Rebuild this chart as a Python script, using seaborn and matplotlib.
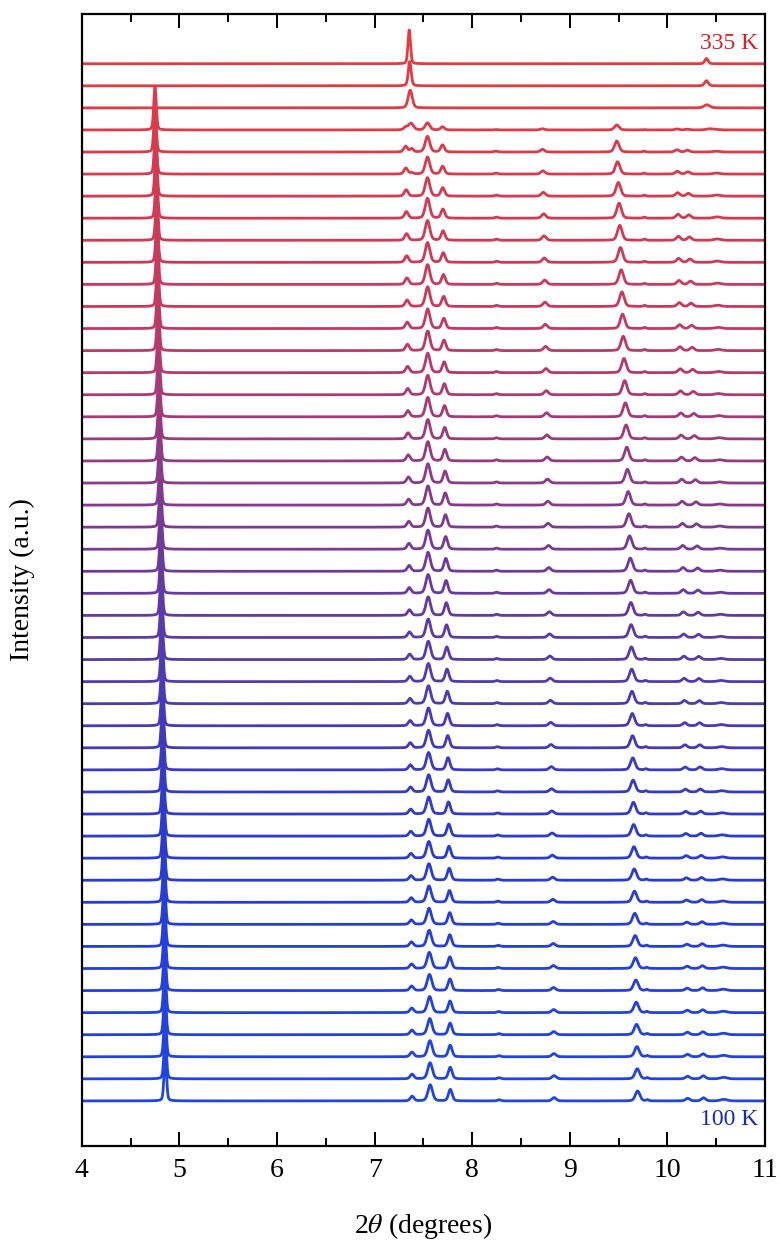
import numpy as np
import pandas as pd
import seaborn as sns
import matplotlib.pyplot as plt

# temperatures, top trace first
temps = list(range(335, 95, -5))

ref_T = [100, 140, 220, 300, 315]

# low temperature phase: positions (deg) at ref_T
pos_main = [4.855, 4.845, 4.810, 4.765, 4.750]
pos_A = [7.385, 7.377, 7.354, 7.326, 7.318]
pos_B = [7.570, 7.558, 7.548, 7.542, 7.542]
pos_C = [7.776, 7.770, 7.730, 7.700, 7.696]
pos_D = [8.277, 8.265, 8.250, 8.250, 8.242]
pos_E = [8.840, 8.830, 8.785, 8.733, 8.720]
pos_F = [9.695, 9.666, 9.620, 9.505, 9.482]
pos_G = [9.796, 9.786, 9.770, 9.765, 9.760]
pos_H = [10.208, 10.200, 10.160, 10.110, 10.098]
pos_I = [10.370, 10.355, 10.310, 10.220, 10.205]
pos_J = [10.578, 10.570, 10.540, 10.510, 10.500]

# heights in units of the trace spacing at ref_T
h_main = [2.0, 2.0, 2.0, 2.0, 1.95]
h_A = [0.21, 0.20, 0.26, 0.30, 0.26]
h_B = [0.73, 0.73, 0.86, 0.90, 0.71]
h_C = [0.52, 0.53, 0.58, 0.41, 0.32]
h_D = [0.05, 0.05, 0.05, 0.05, 0.04]
h_E = [0.15, 0.13, 0.17, 0.20, 0.12]
h_F = [0.45, 0.50, 0.60, 0.68, 0.50]
h_G = [0.05, 0.05, 0.05, 0.05, 0.04]
h_H = [0.12, 0.10, 0.17, 0.18, 0.10]
h_I = [0.14, 0.12, 0.15, 0.15, 0.08]
h_J = [0.07, 0.06, 0.05, 0.06, 0.04]

# FWHM of each low-T peak (deg)
fwhm_low = [0.03, 0.045, 0.055, 0.045, 0.04, 0.05, 0.055, 0.03, 0.05, 0.05, 0.08]

# fraction of low-T phase in each trace near the transition
low_frac = {335: 0.0, 330: 0.0, 325: 0.0, 320: 0.45}

# high temperature phase peaks (only top traces)
ht_T = [335, 330, 325, 320, 315, 310]
ht1_pos = [7.355, 7.360, 7.365, 7.373, 7.380, 7.380]
ht1_h = [1.53, 1.10, 0.80, 0.30, 0.15, 0.06]
ht1_w = [0.030, 0.035, 0.050, 0.060, 0.040, 0.040]
ht2_pos = [10.400, 10.400, 10.405, 10.430, 10.430, 10.430]
ht2_h = [0.24, 0.23, 0.14, 0.05, 0.0, 0.0]
ht2_w = [0.040, 0.045, 0.070, 0.080, 0.080, 0.080]

low_pos = [pos_main, pos_A, pos_B, pos_C, pos_D, pos_E, pos_F, pos_G, pos_H, pos_I, pos_J]
low_h = [h_main, h_A, h_B, h_C, h_D, h_E, h_F, h_G, h_H, h_I, h_J]

x = np.arange(4.0, 11.0005, 0.002)


def peak(x, x0, h, fwhm, eta=0.3):
    s = fwhm / 2.3548
    g = np.exp(-0.5 * ((x - x0) / s) ** 2)
    l = 1.0 / (1.0 + ((x - x0) / (fwhm / 2)) ** 2)
    return h * ((1 - eta) * g + eta * l)


rows = []
n = len(temps)
for i, T in enumerate(temps):
    off = n - 1 - i
    y = np.zeros_like(x)
    frac = low_frac.get(T, 1.0)
    if frac > 0:
        for p, hh, w in zip(low_pos, low_h, fwhm_low):
            x0 = np.interp(T, ref_T, p)
            h0 = np.interp(T, ref_T, hh)
            if p is pos_main:
                y += peak(x, x0, h0, w)
            else:
                y += peak(x, x0, frac * h0, w)
    if T in ht_T:
        k = ht_T.index(T)
        y += peak(x, ht1_pos[k], ht1_h[k], ht1_w[k])
        y += peak(x, ht2_pos[k], ht2_h[k], ht2_w[k])
    rows.append(pd.DataFrame({"two_theta": x, "intensity": y + off, "T": T}))
df = pd.concat(rows, ignore_index=True)

pal = sns.blend_palette(["#E63A40", "#C53A60", "#6B3A9E", "#2A3AD0", "#1F45E5"], n)
palette = dict(zip(temps, pal))

sns.set_style("ticks")
plt.rcParams["font.family"] = ["Liberation Serif", "DejaVu Serif"]
plt.rcParams["mathtext.fontset"] = "stix"

fig = plt.figure(figsize=(7.79, 12.41), dpi=100)
ax = fig.add_axes([0.105, 0.0766, 0.877, 0.9124])

sns.lineplot(data=df, x="two_theta", y="intensity", hue="T", hue_order=temps,
             palette=palette, estimator=None, sort=False, legend=False,
             linewidth=2.0, ax=ax)

ax.set_xlim(4, 11)
ax.set_ylim(-2.04, 49.27)
ax.set_xticks(range(4, 12))
ax.set_xticks(np.arange(4.5, 11, 1.0), minor=True)
ax.set_yticks([])
ax.tick_params(axis="x", which="major", direction="in", top=True, length=10,
               width=1.4, labelsize=20, pad=9, color="black", labelcolor="black")
ax.tick_params(axis="x", which="minor", direction="in", top=True, length=6,
               width=1.4, color="black")
for s in ax.spines.values():
    s.set_linewidth(1.6)
    s.set_color("black")
    s.set_visible(True)

ax.set_xlabel(r"2$\theta$ (degrees)", fontsize=20, labelpad=20, color="black")
ax.set_ylabel("Intensity (a.u.)", fontsize=20, labelpad=34, color="black")

ax.text(10.93, 47.9, "335 K", color="#D8202A", fontsize=17, ha="right", va="center")
ax.text(10.93, -0.86, "100 K", color="#1A2AB8", fontsize=17, ha="right", va="center")

fig.savefig("out.png", dpi=100)
